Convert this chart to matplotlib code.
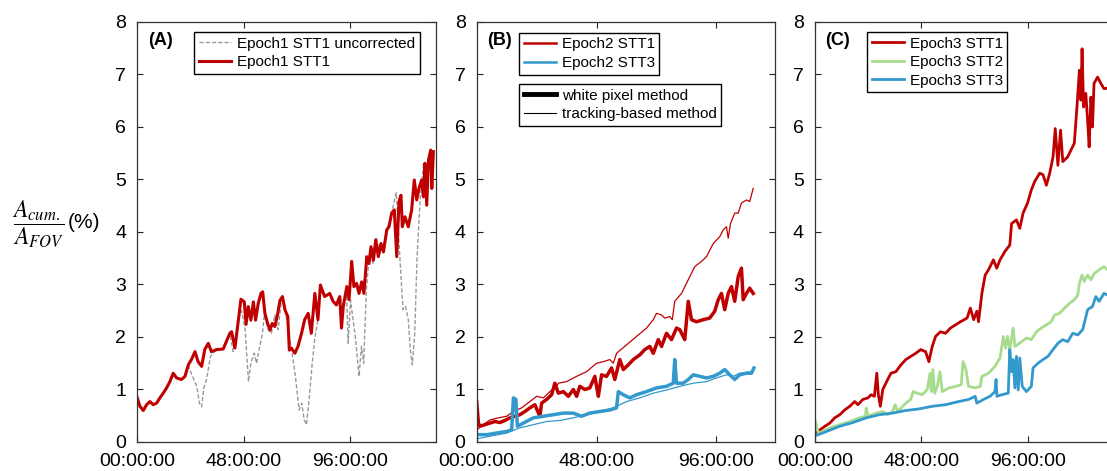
import matplotlib
matplotlib.use("Agg")
import matplotlib.pyplot as plt
from matplotlib.lines import Line2D

plt.rcParams["font.family"] = ["Liberation Sans", "DejaVu Sans"]
plt.rcParams["mathtext.fontset"] = "stix"

# time in hours, values in %
# (A) Epoch1 STT1
a_red_h = [0, 1.2, 2.7, 4.2, 5.7, 7.2, 8.7, 10.2, 11.7, 13.2, 14.7, 16.2, 17.7, 19.9, 21.5, 23, 24.4, 26, 27.4,
           29, 30.4, 32, 33.4, 35.7, 38.7, 41.7, 42.5, 44, 46.7, 48.2, 49.0, 50.0, 51.2, 52.3, 53.3, 54.5, 55.7,
           56.5, 57.5, 58.7, 59.8, 60.8, 62.0, 63.3, 64.3, 65.4, 66.6, 67.8, 68.5, 69.4, 71, 72.4, 74, 75.4, 77,
           78.4, 80, 81.4, 82.5, 84.4, 86.7, 88.2, 89.7, 91.2, 92.0, 92.8, 94.4, 95.4, 96.6, 97.6, 98.8, 99.9,
           101.1, 102.1, 103.4, 104.4, 105.3, 106.4, 107.4, 108.6, 109.8, 110.9, 112.4, 113.4, 114.6, 115.8,
           116.9, 117.9, 118.8, 119.4, 120.6, 122.1, 123.6, 124.8, 125.9, 126.9, 128.1, 128.9, 129.6, 130.4,
           131.2, 132.2, 132.7, 133.4]
a_red_v = [0.84, 0.68, 0.60, 0.71, 0.77, 0.71, 0.74, 0.84, 0.93, 1.03, 1.15, 1.31, 1.22, 1.19, 1.25, 1.47, 1.57,
           1.72, 1.53, 1.44, 1.76, 1.88, 1.72, 1.76, 1.77, 2.07, 2.10, 1.79, 2.72, 2.67, 2.24, 2.58, 2.32, 2.67,
           2.32, 2.64, 2.83, 2.86, 2.45, 2.26, 2.13, 2.26, 2.20, 2.45, 2.70, 2.77, 2.51, 2.39, 1.75, 1.79, 1.69,
           1.82, 2.07, 2.33, 2.45, 2.07, 2.83, 2.33, 2.99, 2.77, 2.83, 2.68, 2.61, 2.77, 2.17, 2.58, 2.96, 2.71,
           3.44, 2.96, 3.02, 2.83, 3.05, 2.83, 3.53, 3.40, 3.72, 3.46, 3.85, 3.53, 3.78, 3.62, 4.04, 4.10, 4.36,
           4.42, 3.53, 4.58, 4.70, 4.10, 4.29, 4.10, 4.42, 4.99, 4.61, 4.83, 4.99, 4.67, 5.31, 4.51, 5.37, 5.56,
           4.83, 5.53]
a_gray_h = [0, 1.2, 2.7, 4.2, 5.7, 7.2, 8.7, 10.2, 11.7, 13.2, 14.7, 16.2, 17.7, 19.9, 21.5, 23, 24.6, 26.8, 28,
            29, 30, 31.2, 33, 35.7, 38.7, 41.7, 43.2, 45.4, 47, 48.6, 50.1, 51.2, 52.7, 53.7, 54.9, 56.4, 57.2,
            59, 60.4, 62, 63.4, 65, 66.4, 68, 70.2, 71.4, 72.9, 74.1, 75.2, 76.2, 77.4, 78.7, 79.9, 81.4, 82.5,
            84.4, 86.7, 88.2, 89.7, 91.2, 92.7, 94.2, 95, 96.1, 97.2, 98.4, 99.9, 101, 102, 103.2, 104.7, 106.2,
            107.7, 109.2, 110.7, 112.2, 113.7, 115.2, 116.7, 118.2, 119.7, 120.9, 122.1, 123, 123.9, 125, 126,
            127.5, 129, 130.2, 131.4, 132.4, 133.5]
a_gray_v = [0.84, 0.68, 0.60, 0.71, 0.77, 0.71, 0.74, 0.84, 0.93, 1.03, 1.15, 1.31, 1.22, 1.19, 1.25, 1.45, 1.28,
            1.06, 0.74, 0.67, 1.03, 1.19, 1.63, 1.76, 1.77, 2.07, 1.72, 2.33, 2.50, 2.14, 1.15, 1.50, 1.69, 1.50,
            1.76, 2.07, 2.42, 2.14, 2.07, 2.42, 2.14, 2.71, 2.58, 2.14, 1.57, 1.19, 0.61, 0.74, 0.42, 0.33, 0.80,
            1.44, 1.95, 2.33, 2.99, 2.77, 2.83, 2.68, 2.61, 2.77, 2.60, 2.90, 1.88, 2.70, 2.33, 1.95, 1.25, 1.82,
            1.50, 2.90, 3.66, 3.40, 3.90, 3.59, 3.72, 3.97, 4.23, 4.48, 4.75, 3.59, 2.52, 2.58, 2.33, 1.76, 1.47,
            2.07, 3.47, 4.67, 5.31, 5.00, 5.35, 5.20, 5.40]

# (B) Epoch2
b1_wp_h = [0, 0.7, 1.3, 3.3, 5.3, 7.3, 9.3, 11.3, 13.3, 15.3, 17.3, 19.3, 21.3, 23.3, 25.3, 26, 28, 30, 31.3,
           32.7, 34.7, 36.7, 38.7, 40, 41.3, 43.3, 45.3, 47.3, 48.7, 50, 52, 54, 55.3, 57.3, 58.7, 60.7, 62.7,
           65.3, 67.3, 69.3, 70.7, 72.7, 74, 76, 78, 80, 81.3, 83.3, 84.7, 86, 88, 90.7, 93.3, 95.3, 96.7, 98,
           99.3, 100.7, 102, 103.3, 104.7, 106, 106.7, 108, 109.3, 110.7]
b1_wp_v = [0.77, 0.36, 0.30, 0.33, 0.36, 0.39, 0.37, 0.41, 0.46, 0.49, 0.52, 0.58, 0.65, 0.71, 0.49, 0.74, 0.81,
           0.90, 1.12, 0.93, 0.96, 0.87, 1.00, 0.87, 1.06, 1.00, 1.03, 1.25, 0.87, 1.28, 1.25, 1.41, 1.19, 1.57,
           1.38, 1.47, 1.57, 1.66, 1.76, 1.82, 1.69, 1.95, 1.82, 2.07, 1.95, 2.17, 2.14, 1.95, 2.68, 2.33, 2.29,
           2.33, 2.36, 2.49, 2.71, 2.83, 2.52, 2.83, 2.96, 2.68, 3.15, 3.31, 2.71, 2.83, 2.93, 2.83]
b1_tr_h = [0, 2.7, 5.3, 8.7, 12, 14.7, 18, 21.3, 24, 26.7, 29.3, 32, 32.7, 36, 40, 44, 48, 50.7, 53.3, 54.7, 56,
           60, 64, 68, 70.7, 72, 74, 75.3, 77.3, 78.3, 79.3, 82, 84.7, 87.3, 90, 92, 94.7, 97.3, 98.7, 100,
           100.7, 101.6, 103.3, 104.7, 106, 108, 109.3, 110.7]
b1_tr_v = [0.23, 0.33, 0.42, 0.46, 0.49, 0.58, 0.65, 0.77, 0.87, 0.84, 0.96, 1.06, 1.12, 1.15, 1.25, 1.34, 1.50,
           1.53, 1.57, 1.50, 1.69, 1.85, 2.01, 2.17, 2.33, 2.45, 2.42, 2.36, 2.39, 2.33, 2.68, 2.83, 3.09, 3.34,
           3.44, 3.53, 3.78, 3.91, 4.04, 4.10, 3.88, 4.16, 4.36, 4.36, 4.55, 4.61, 4.58, 4.83]
b3_wp_h = [0, 4, 8, 12, 14, 14.7, 15.7, 16.3, 18.7, 22.7, 26.7, 30.7, 34.7, 38.7, 42, 45.3, 49.3, 53.3, 56,
           56.7, 58.7, 61.3, 64, 68, 72, 76, 78.7, 79.3, 80, 82.7, 84.7, 86.7, 89.3, 92, 94.7, 97.3, 99.3,
           101.3, 103.3, 105.3, 108, 110, 111]
b3_wp_v = [0.14, 0.14, 0.17, 0.20, 0.23, 0.84, 0.81, 0.30, 0.36, 0.46, 0.49, 0.52, 0.55, 0.55, 0.49, 0.55, 0.58,
           0.61, 0.65, 0.96, 0.90, 0.84, 0.90, 0.96, 1.03, 1.06, 1.12, 1.57, 1.12, 1.12, 1.19, 1.28, 1.25, 1.22,
           1.25, 1.31, 1.38, 1.28, 1.19, 1.28, 1.31, 1.31, 1.41]
b3_tr_h = [0, 5.3, 12, 17.3, 22.7, 28, 33.3, 38.7, 44, 49.3, 54.7, 60, 65.3, 70.7, 76, 81.3, 86.7, 92, 96, 100,
           102.7, 105.3, 110.7]
b3_tr_v = [0.06, 0.11, 0.17, 0.27, 0.33, 0.39, 0.41, 0.46, 0.52, 0.58, 0.65, 0.77, 0.84, 0.93, 0.99, 1.06, 1.12,
           1.15, 1.22, 1.28, 1.25, 1.31, 1.34]

# (C) Epoch3
c1_h = [0.3, 2.2, 4.5, 6.7, 8.9, 11.2, 13.4, 15.7, 17.9, 19.4, 21.6, 23.9, 25.3, 26.8, 27.9, 28.6, 29.5, 30.6,
        32.8, 34.3, 36.5, 38.8, 41, 43.2, 45.5, 47.7, 49.9, 51.4, 52.9, 54.4, 56.6, 58.9, 61.1, 63.4, 65.6, 68.6,
        70.1, 71.6, 73, 73.8, 75.3, 76.8, 78.3, 80.5, 82, 83.5, 85.7, 87.9, 88.7, 90.9, 92.4, 93.9, 95.9, 97.6,
        99.1, 101.4, 102.9, 104.4, 105.9, 107.4, 108.4, 109.6, 110.8, 111.8, 114, 115.5, 117, 118.2, 119.3, 120,
        120.5, 121.2, 122.2, 123, 123.7, 124.5, 125.2, 125.9, 127.5, 129, 130.4, 132, 134]
c1_v = [0.17, 0.23, 0.30, 0.36, 0.46, 0.52, 0.61, 0.68, 0.77, 0.71, 0.81, 0.84, 0.90, 0.87, 1.31, 0.90, 0.68,
        1.00, 1.19, 1.31, 1.34, 1.47, 1.57, 1.63, 1.69, 1.76, 1.72, 1.53, 1.82, 2.01, 2.10, 2.07, 2.17, 2.23,
        2.29, 2.36, 2.55, 2.33, 2.49, 2.29, 2.83, 3.18, 3.28, 3.47, 3.31, 3.47, 3.63, 3.75, 4.16, 4.23, 4.07,
        4.36, 4.55, 4.80, 4.96, 5.12, 5.09, 4.89, 5.12, 5.43, 5.97, 5.27, 5.94, 5.34, 5.43, 5.56, 5.69, 6.38,
        7.08, 6.51, 7.49, 6.38, 6.64, 6.13, 5.62, 6.57, 6.00, 6.83, 6.95, 6.83, 6.73, 6.74, 6.70]
c2_h = [0.3, 1.5, 3.7, 6.7, 11.2, 15.7, 20.1, 22.8, 23.1, 23.9, 27.6, 30.6, 32.8, 35, 36.2, 37.3, 41, 43.2, 44.3,
        46.2, 48.4, 50.7, 51.9, 52.5, 53.2, 54, 55.2, 56.4, 57.4, 60.4, 63.4, 66, 66.8, 68.1, 69.3, 72.3, 74.6,
        75.3, 78.3, 81.2, 83.5, 85, 86, 86.9, 87.9, 89.4, 90.2, 93.2, 95.4, 97.6, 99.9, 102.1, 104.4, 106.6,
        108.1, 110.3, 112.6, 114.8, 117, 118.6, 119.3, 120.5, 121.5, 123, 124.5, 126, 128.2, 130.4, 132, 134]
c2_v = [0.39, 0.17, 0.20, 0.27, 0.33, 0.39, 0.46, 0.49, 0.65, 0.49, 0.55, 0.58, 0.52, 0.58, 0.71, 0.58, 0.74,
        0.81, 0.96, 0.93, 0.90, 1.00, 1.31, 0.96, 1.38, 0.93, 1.06, 1.34, 0.96, 1.03, 1.06, 1.09, 1.53, 1.38,
        1.06, 1.03, 1.06, 1.25, 1.31, 1.44, 1.60, 2.01, 1.79, 2.01, 1.76, 2.17, 1.82, 1.91, 1.98, 1.95, 2.10,
        2.17, 2.23, 2.29, 2.42, 2.45, 2.55, 2.64, 2.71, 2.80, 3.02, 3.18, 3.06, 3.18, 3.09, 3.21, 3.28, 3.34,
        3.28, 3.35]
c3_h = [0.3, 5.2, 11.2, 17.1, 23.1, 29.1, 35, 41, 47, 52.9, 58.9, 64.8, 69.3, 72.3, 73, 76, 79, 81.2, 81.7, 82.1,
        84.2, 87.2, 87.9, 88.7, 89.4, 90.2, 90.9, 91.7, 92.4, 93.5, 95.4, 97.6, 98.4, 100.6, 102.9, 105.1, 107.4,
        109.6, 111.8, 114, 116.3, 118.6, 120.8, 123, 125.2, 126.7, 128.2, 130.4, 132, 134]
c3_v = [0.12, 0.20, 0.30, 0.37, 0.46, 0.52, 0.55, 0.60, 0.63, 0.68, 0.71, 0.77, 0.81, 0.87, 0.74, 0.81, 0.87,
        0.96, 1.19, 0.87, 0.90, 0.93, 1.76, 1.34, 1.57, 1.03, 1.63, 0.99, 1.60, 1.06, 0.96, 1.06, 1.41, 1.50,
        1.57, 1.63, 1.76, 1.88, 1.95, 1.91, 2.07, 2.04, 2.14, 2.52, 2.58, 2.77, 2.68, 2.83, 2.80, 2.85]

tick_pos = [0, 48, 96]
tick_lab = ["00:00:00", "48:00:00", "96:00:00"]

RED = "#c00000"
BLUE = "#3399cc"
GREEN = "#a6dc8c"
GRAY = "#999999"

fig = plt.figure(figsize=(11.07, 4.71), dpi=100)
axA = fig.add_axes([0.1240, 0.0616, 0.2701, 0.8917])
axB = fig.add_axes([0.4306, 0.0616, 0.2692, 0.8917])
axC = fig.add_axes([0.7362, 0.0616, 0.2701, 0.8917])

for ax, xmax in [(axA, 134.7), (axB, 119.3), (axC, 134.9)]:
    ax.set_xticks(tick_pos)
    ax.set_xticklabels(tick_lab)
    ax.set_yticks(range(9))
    ax.set_xlim(0, xmax)
    ax.set_ylim(0, 8)
    ax.tick_params(direction="in", top=True, right=True, length=4, width=0.8,
                   labelsize=14, pad=8, colors="#222222", labelcolor="black")
    for s in ax.spines.values():
        s.set_color("#333333")
        s.set_linewidth(0.9)

leg_kw = dict(loc="upper left", borderaxespad=0, fontsize=11, fancybox=False, edgecolor="black",
              framealpha=1, handlelength=2.1, labelspacing=0.3, borderpad=0.3, handletextpad=0.4)

# panel A
axA.plot(a_gray_h, a_gray_v, color=GRAY, lw=1.0, ls=(0, (3, 1.5)), label="Epoch1 STT1 uncorrected")
axA.plot(a_red_h, a_red_v, color=RED, lw=2.2, label="Epoch1 STT1")
axA.legend(bbox_to_anchor=(0.19, 0.976), **leg_kw)
axA.text(0.035, 0.955, "(A)", transform=axA.transAxes, fontsize=13, fontweight="bold", va="center")

# panel B
axB.plot(b1_tr_h, b1_tr_v, color=RED, lw=0.9)
axB.plot(b1_wp_h, b1_wp_v, color=RED, lw=2.5)
axB.plot(b3_tr_h, b3_tr_v, color=BLUE, lw=0.9)
axB.plot(b3_wp_h, b3_wp_v, color=BLUE, lw=2.5)
legB1 = axB.legend([Line2D([], [], color=RED, lw=1.8), Line2D([], [], color=BLUE, lw=1.8)],
                   ["Epoch2 STT1", "Epoch2 STT3"], bbox_to_anchor=(0.142, 0.974), **leg_kw)
axB.add_artist(legB1)
axB.legend([Line2D([], [], color="black", lw=3.5), Line2D([], [], color="black", lw=0.8)],
           ["white pixel method", "tracking-based method"], bbox_to_anchor=(0.142, 0.852), **leg_kw)
axB.text(0.035, 0.955, "(B)", transform=axB.transAxes, fontsize=13, fontweight="bold", va="center")

# panel C
axC.plot(c1_h, c1_v, color=RED, lw=2.0, label="Epoch3 STT1")
axC.plot(c2_h, c2_v, color=GREEN, lw=2.0, label="Epoch3 STT2")
axC.plot(c3_h, c3_v, color=BLUE, lw=2.0, label="Epoch3 STT3")
axC.legend(bbox_to_anchor=(0.174, 0.976), **leg_kw)
axC.text(0.035, 0.955, "(C)", transform=axC.transAxes, fontsize=13, fontweight="bold", va="center")

# y label
fig.text(38 / 1107, 0.525, r"$\dfrac{A_{cum.}}{A_{FOV}}$", fontsize=17, ha="center", va="center")
fig.text(68 / 1107, 0.528, "(%)", fontsize=15, ha="left", va="center")

fig.savefig("out.png", dpi=100)
